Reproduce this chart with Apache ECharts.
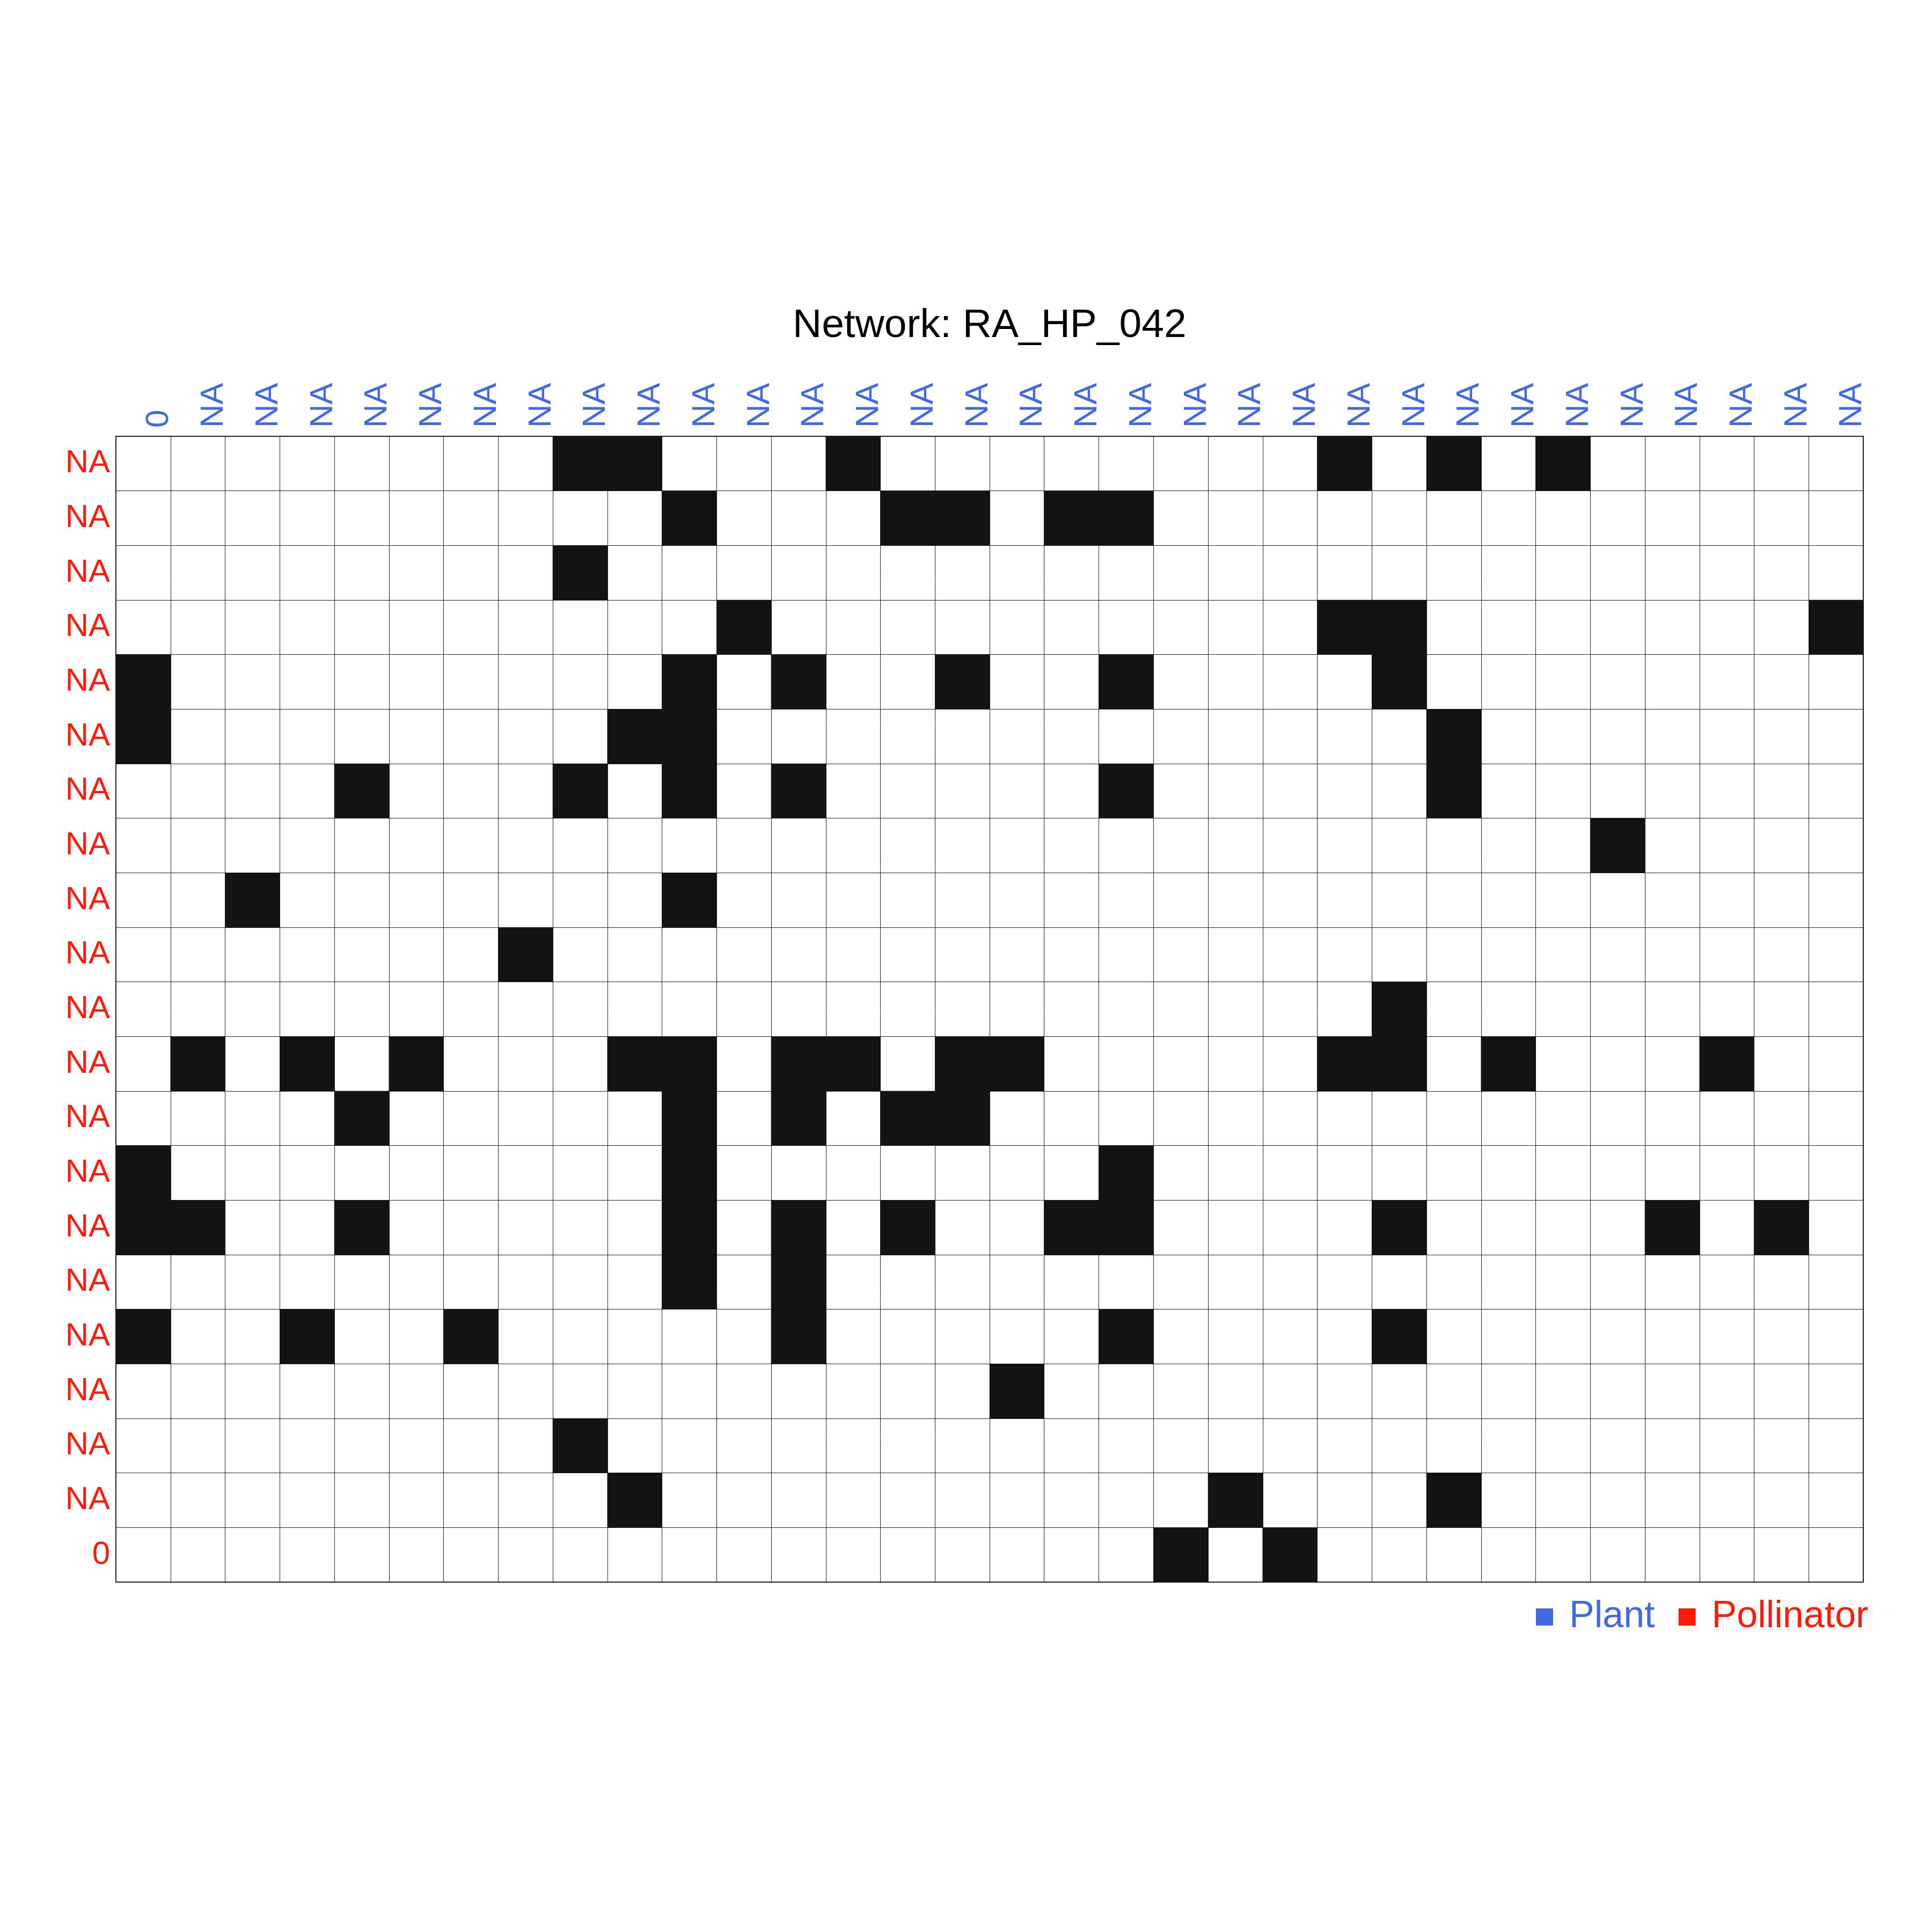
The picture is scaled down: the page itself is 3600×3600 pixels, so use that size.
<!DOCTYPE html>
<html>
<head>
<meta charset="utf-8">
<script src="https://cdn.jsdelivr.net/npm/echarts@6/dist/echarts.min.js"></script>
<style>html,body{margin:0;padding:0;background:#fff}#c{width:3600px;height:3600px}</style>
</head>
<body>
<div id="c"></div>
<script>
var titleText = 'Network: RA_HP_042';
var colLabels = ['0','NA','NA','NA','NA','NA','NA','NA','NA','NA','NA','NA','NA','NA','NA','NA',
                 'NA','NA','NA','NA','NA','NA','NA','NA','NA','NA','NA','NA','NA','NA','NA','NA'];
var rowLabels = ['NA','NA','NA','NA','NA','NA','NA','NA','NA','NA','NA','NA','NA','NA','NA','NA','NA','NA','NA','NA','0'];
// interacting plant (column) indices for each pollinator row
var rowLinks = [
  [8,9,13,22,24,26],
  [10,14,15,17,18],
  [8],
  [11,22,23,31],
  [0,10,12,15,18,23],
  [0,9,10,24],
  [4,8,10,12,18,24],
  [27],
  [2,10],
  [7],
  [23],
  [1,3,5,9,10,12,13,15,16,22,23,25,29],
  [4,10,12,14,15],
  [0,10,18],
  [0,1,4,10,12,14,17,18,23,28,30],
  [10,12],
  [0,3,6,12,18,23],
  [16],
  [8],
  [9,20,24],
  [19,21]
];
var legendNames = ['Plant','Pollinator'];

var BLUE = '#4169E1', RED = '#FF1A0A', FONT = '"Liberation Sans", Arial, sans-serif';
var colIds = colLabels.map(function(_, i){ return 'c' + i; });
var rowIds = rowLabels.map(function(_, i){ return 'r' + i; });
var cells = [];
rowLinks.forEach(function(cols, r){ cols.forEach(function(c){ cells.push([c, r, 1]); }); });

var chart = echarts.init(document.getElementById('c'), null, {renderer: 'canvas'});
chart.setOption({
  animation: false,
  backgroundColor: '#fff',
  title: {
    text: titleText, left: 1477, top: 570, padding: 0,
    textStyle: {fontFamily: FONT, fontSize: 75, fontWeight: 'normal', color: '#000'}
  },
  legend: {
    data: [
      {name: legendNames[0], textStyle: {color: BLUE}},
      {name: legendNames[1], textStyle: {color: RED}}
    ],
    left: 2862, top: 2978, padding: 0, itemGap: 44,
    itemWidth: 32, itemHeight: 32, icon: 'rect', selectedMode: false,
    textStyle: {fontFamily: FONT, fontSize: 70, padding: [0, 0, 0, 25]}
  },
  grid: {left: 216, top: 813, width: 3256, height: 2135, show: true, borderColor: '#222', borderWidth: 2, backgroundColor: '#fff'},
  visualMap: {show: false, type: 'piecewise', seriesIndex: 0, dimension: 2, pieces: [{value: 1, color: '#131313'}]},
  xAxis: {
    type: 'category', position: 'top', data: colIds,
    axisLine: {show: false}, axisTick: {show: false},
    splitLine: {show: true, interval: 0, lineStyle: {color: '#222', width: 1}},
    axisLabel: {
      interval: 0, rotate: -90, margin: 16, color: BLUE, fontFamily: FONT, fontSize: 60,
      verticalAlign: 'top', lineHeight: 60,
      formatter: function(v, i){ return colLabels[i]; }
    }
  },
  yAxis: {
    type: 'category', inverse: true, data: rowIds,
    axisLine: {show: false}, axisTick: {show: false},
    splitLine: {show: true, interval: 0, lineStyle: {color: '#222', width: 1}},
    axisLabel: {
      interval: 0, margin: 11, color: RED, fontFamily: FONT, fontSize: 60,
      padding: [8, 0, 0, 0],
      formatter: function(v, i){ return rowLabels[i]; }
    }
  },
  series: [
    {type: 'heatmap', data: cells, itemStyle: {borderWidth: 0}, emphasis: {disabled: true}, silent: true},
    {type: 'scatter', name: legendNames[0], data: [], itemStyle: {color: BLUE, opacity: 1}},
    {type: 'scatter', name: legendNames[1], data: [], itemStyle: {color: RED, opacity: 1}}
  ]
});
</script>
</body>
</html>
